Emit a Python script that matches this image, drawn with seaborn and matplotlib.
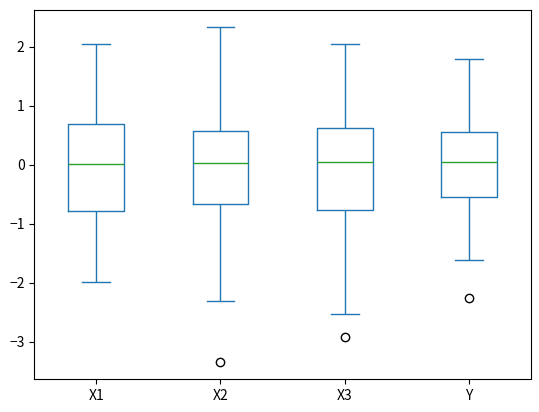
import numpy as np
import pandas as pd
import matplotlib
matplotlib.use('Agg')
import matplotlib.pyplot as plt
import seaborn as sns

# valores (estatisticas de cada caixa)
colunas = ['X1', 'X2', 'X3', 'Y']
bigode_inf = [-1.99, -2.30, -2.53, -1.62]
q1 = [-0.78, -0.67, -0.76, -0.54]
mediana = [0.017, 0.034, 0.05, 0.05]
q3 = [0.69, 0.574, 0.625, 0.55]
bigode_sup = [2.04, 2.34, 2.04, 1.79]
outliers = [[], [-3.345], [-2.91], [-2.26]]

# monta amostras que reproduzem os quartis (n=9 -> indices 2, 4, 6)
linhas = []
for i, c in enumerate(colunas):
    vals = [bigode_inf[i], q1[i], mediana[i], mediana[i], mediana[i], q3[i], bigode_sup[i]]
    extra = outliers[i] if outliers[i] else [bigode_inf[i]]
    vals = sorted(extra + vals + [bigode_sup[i]])
    for v in vals:
        linhas.append({'variavel': c, 'valor': v})
df = pd.DataFrame(linhas)

plt.rcParams['font.family'] = ['Noto Sans CJK JP', 'DejaVu Sans']

fig = plt.figure(figsize=(5.39, 4.12), dpi=100)
ax = fig.add_axes([0.0637, 0.080, 0.921, 0.8957])

sns.boxplot(
    data=df, x='variavel', y='valor', order=colunas,
    width=0.45, fill=False, color='#1f77b4', linewidth=1,
    medianprops={'color': '#2ca02c', 'linewidth': 1},
    flierprops={'marker': 'o', 'markersize': 6, 'markerfacecolor': 'none',
                'markeredgecolor': 'black', 'markeredgewidth': 1},
    ax=ax,
)
ax.set_xlabel('')
ax.set_ylabel('')

plt.savefig('out.png', dpi=100)
